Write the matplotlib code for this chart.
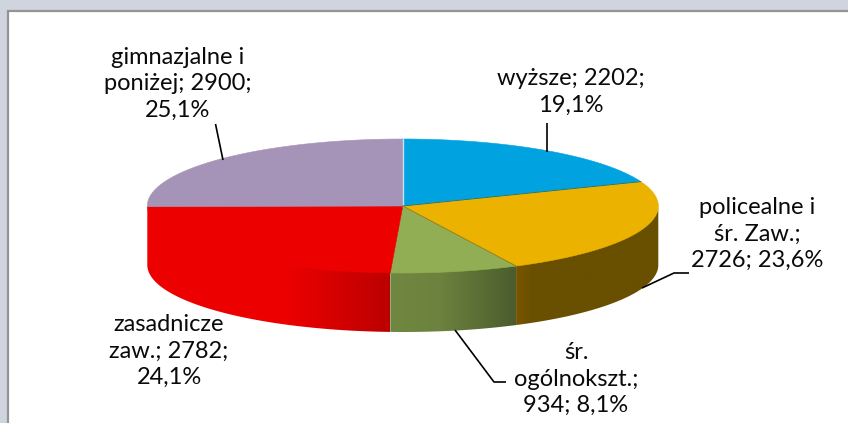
import numpy as np
import matplotlib
matplotlib.use("Agg")
import matplotlib.pyplot as plt
from matplotlib.patches import Polygon, Rectangle

# data
categories = ["wyższe", "policealne i śr. Zaw.", "śr. ogólnokszt.", "zasadnicze zaw.", "gimnazjalne i poniżej"]
values = [2202, 2726, 934, 2782, 2900]
label_texts = [
    "wyższe; 2202;\n19,1%",
    "policealne i\nśr. Zaw.;\n2726; 23,6%",
    "śr.\nogólnokszt.;\n934; 8,1%",
    "zasadnicze\nzaw.; 2782;\n24,1%",
    "gimnazjalne i\nponiżej; 2900;\n25,1%",
]

# style
top_colors = ["#00A3E0", "#ECB200", "#92AE54", "#EC0000", "#A694B8"]
side_stops = [
    [(0, (0, 120, 165)), (1, (0, 120, 165))],
    [(0, (120, 84, 0)), (0.12, (104, 80, 0)), (1, (104, 80, 0))],
    [(0, (112, 135, 65)), (0.4, (108, 130, 62)), (1, (75, 92, 45))],
    [(0, (236, 0, 0)), (0.58, (236, 0, 0)), (1, (188, 0, 0))],
    [(0, (120, 105, 135)), (1, (120, 105, 135))],
]
label_pos = [(571, 92), (757, 234), (576, 379), (169, 351), (178, 84)]
leaders = [
    [(547, 123), (547, 152)],
    [(689, 273), (674, 273), (642, 288)],
    [(506, 382), (494, 382), (455, 330)],
    [(215.5, 124), (223, 160)],
]

CX, CY, RX, RY, DEPTH = 402.8, 206, 255.5, 67, 59

W, H = 848, 423
fig = plt.figure(figsize=(W / 100, H / 100), dpi=100, facecolor="#D0D4DE")
ax = fig.add_axes([0, 0, 1, 1])
ax.axis("off")

ax.add_patch(Rectangle((7.5, 11), W, H, facecolor="white", edgecolor="#949494", linewidth=1.6, zorder=0))


def arc(a0, a1, dy=0.0, ry_scale=1.0):
    t = np.linspace(a0, a1, 200)
    return np.column_stack([CX + RX * np.sin(t), CY - RY * ry_scale * np.cos(t) + dy])


shares = np.array(values, dtype=float) / np.sum(values)
bounds = np.concatenate([[0], np.cumsum(shares)]) * 2 * np.pi

# side walls: only the front half (pi/2 .. 3pi/2) is visible
for i in range(len(values)):
    a0 = max(bounds[i], np.pi / 2)
    a1 = min(bounds[i + 1], 3 * np.pi / 2)
    if a1 <= a0:
        continue
    # upper edge tucked under the top face so no seam shows
    pts = np.vstack([arc(a0, a1, 0, 0.9), arc(a0, a1, DEPTH)[::-1]])
    x_min, x_max = pts[:, 0].min(), pts[:, 0].max()
    u = np.linspace(0, 1, max(int(x_max - x_min), 2))
    stops = side_stops[i]
    pos = [s[0] for s in stops]
    rgb = np.stack([np.interp(u, pos, [s[1][c] for s in stops]) for c in range(3)], axis=-1)[None, :, :] / 255
    poly = Polygon(pts, closed=True, facecolor="none", edgecolor="none", zorder=2)
    ax.add_patch(poly)
    im = ax.imshow(rgb, extent=(x_min, x_max, pts[:, 1].max(), pts[:, 1].min()),
                   aspect="auto", zorder=2, interpolation="bilinear")
    im.set_clip_path(poly)

# top faces
for i, c in enumerate(top_colors):
    pts = np.vstack([[CX, CY], arc(bounds[i], bounds[i + 1])])
    ax.add_patch(Polygon(pts, closed=True, facecolor=c, edgecolor=c, linewidth=0.4, zorder=3))

# dividers on the top face
ax.plot([CX, CX], [CY - RY, CY], color="#BFE3F2", lw=1.0, zorder=4)
for i, col in [(1, "#0A6F8A"), (2, "#9A7A10")]:
    p = arc(bounds[i], bounds[i], 0)[0]
    ax.plot([CX, p[0]], [CY, p[1]], color=col, lw=0.6, zorder=4)

# leaders
for seg in leaders:
    seg = np.array(seg)
    ax.plot(seg[:, 0], seg[:, 1], color="black", lw=1.2, zorder=5, solid_capstyle="butt")

# labels
for txt, (x, y) in zip(label_texts, label_pos):
    ax.text(x, y, txt, ha="center", va="center", family=["Lato", "DejaVu Sans"],
            fontsize=17.0, color="#0A0A0A", linespacing=1.34, zorder=6)

ax.set_xlim(0, W)
ax.set_ylim(H, 0)
fig.savefig("out.png", dpi=100, facecolor=fig.get_facecolor())
